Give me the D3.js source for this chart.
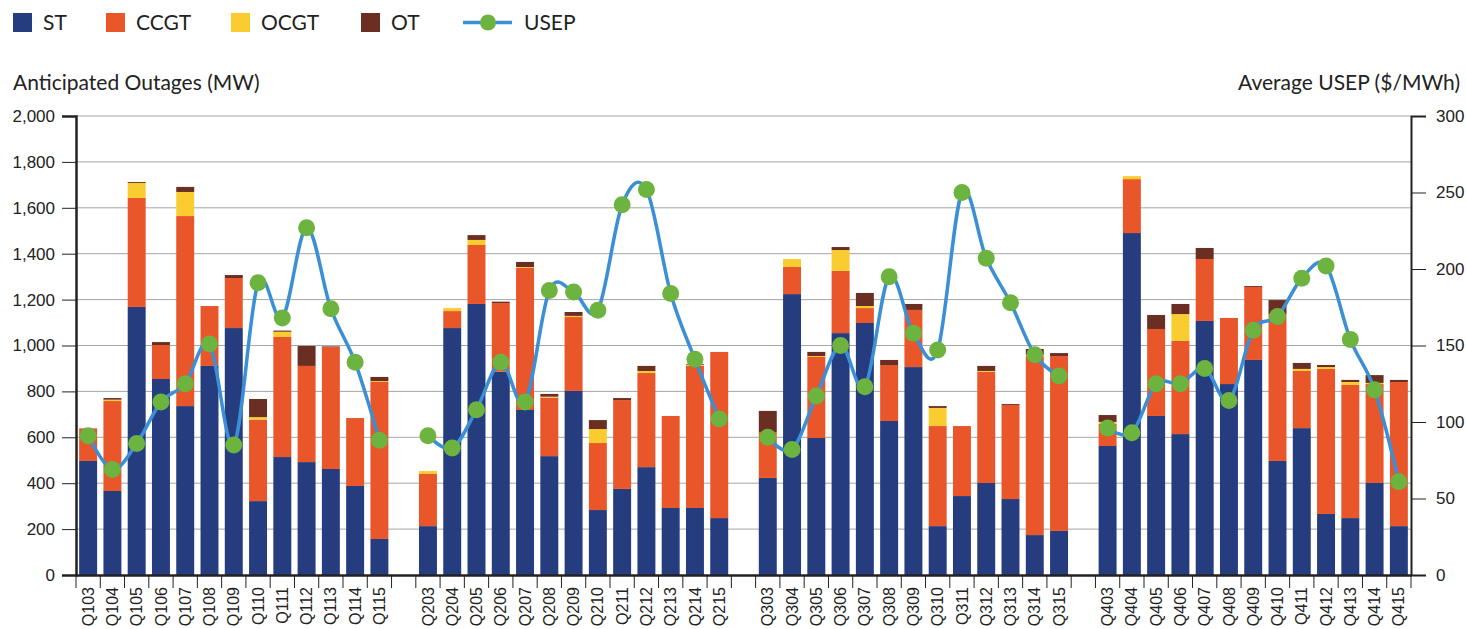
<!DOCTYPE html>
<html lang="en">
<head>
    <meta charset="UTF-8">
    <title>Anticipated Outages vs USEP</title>
    <script src="https://d3js.org/d3.v7.min.js"></script>
    <style>
        body { margin: 0; background: white; }
        svg { display: block; font-family: Lato, "Open Sans", sans-serif; }
        .grid line { stroke: #a6a6a6; stroke-width: 1px; }
        .axis path, .axis line { stroke: #222; }
        .axis text { fill: #222; }
    </style>
</head>
<body>
<div id="chart"></div>
<script>
    // quarters, grouped by year (a blank slot is inserted between groups)
    const groups = [
        ["Q103","Q104","Q105","Q106","Q107","Q108","Q109","Q110","Q111","Q112","Q113","Q114","Q115"],
        ["Q203","Q204","Q205","Q206","Q207","Q208","Q209","Q210","Q211","Q212","Q213","Q214","Q215"],
        ["Q303","Q304","Q305","Q306","Q307","Q308","Q309","Q310","Q311","Q312","Q313","Q314","Q315"],
        ["Q403","Q404","Q405","Q406","Q407","Q408","Q409","Q410","Q411","Q412","Q413","Q414","Q415"]
    ];

    // outages in MW, one value per quarter (in the order above)
    const st = [
        497, 366, 1168, 854, 736, 911, 1076, 322, 514, 492, 462, 388, 157,
        213, 1076, 1181, 886, 719, 518, 802, 283, 375, 470, 292, 292, 248,
        423, 1224, 597, 1054, 1098, 671, 906, 213, 344, 401, 331, 174, 192,
        562, 1490, 693, 614, 1107, 832, 937, 497, 640, 266, 248, 401, 213
    ];
    const ccgt = [
        142, 392, 475, 148, 828, 261, 218, 355, 523, 419, 531, 296, 684,
        227, 74, 257, 299, 619, 255, 322, 292, 387, 410, 401, 620, 724,
        200, 118, 353, 271, 65, 244, 249, 436, 305, 484, 410, 780, 762,
        96, 235, 379, 406, 270, 288, 318, 640, 249, 632, 580, 431, 628
    ];
    const ocgt = [
        0, 6, 65, 0, 105, 0, 0, 11, 23, 0, 0, 0, 4,
        13, 13, 22, 0, 4, 4, 5, 61, 0, 9, 0, 4, 0,
        0, 35, 4, 91, 9, 0, 0, 79, 0, 4, 0, 5, 0,
        9, 13, 0, 117, 0, 0, 0, 0, 9, 8, 13, 5, 0
    ];
    const ot = [
        0, 7, 4, 13, 22, 0, 13, 79, 5, 87, 3, 0, 18,
        0, 0, 21, 6, 22, 12, 17, 39, 9, 22, 0, 3, 0,
        92, 0, 18, 13, 57, 22, 26, 8, 0, 22, 4, 26, 13,
        30, 0, 61, 44, 48, 0, 4, 61, 26, 9, 9, 34, 9
    ];
    // average USEP in $/MWh
    const usep = [
        91, 69, 86, 113, 125, 151, 85, 191, 168, 227, 174, 139, 88,
        91, 83, 108, 139, 113, 186, 185, 173, 242, 252, 184, 141, 102,
        90, 82, 117, 150, 123, 195, 158, 147, 250, 207, 178, 144, 130,
        96, 93, 125, 125, 135, 114, 160, 169, 194, 202, 154, 121, 61
    ];

    const leftTicks = [0, 200, 400, 600, 800, 1000, 1200, 1400, 1600, 1800, 2000];
    const rightTicks = [0, 50, 100, 150, 200, 250, 300];

    const keys = ["ST", "CCGT", "OCGT", "OT"];
    const colors = { ST: "#253d7e", CCGT: "#e8562a", OCGT: "#f9cd30", OT: "#6a2e22" };
    const lineColor = "#3a8fd6", dotColor = "#6db33f";

    // build rows, with blank separators between groups
    const rows = [];
    let k = 0;
    groups.forEach((g, gi) => {
        g.forEach(q => {
            rows.push({ key: q, group: gi, ST: st[k], CCGT: ccgt[k], OCGT: ocgt[k], OT: ot[k], usep: usep[k] });
            k++;
        });
        if (gi < groups.length - 1) rows.push({ key: "_gap" + gi, group: gi, blank: true, ST: 0, CCGT: 0, OCGT: 0, OT: 0 });
    });

    const W = 1466, H = 629;
    const margin = { top: 116, right: 55, bottom: 54, left: 76 };
    const width = W - margin.left - margin.right,
          height = H - margin.top - margin.bottom;

    const svg = d3.select("#chart").append("svg")
        .attr("width", W).attr("height", H);

    const g = svg.append("g").attr("transform", `translate(${margin.left},${margin.top})`);

    const x = d3.scaleBand()
        .domain(rows.map(d => d.key))
        .range([0, width])
        .paddingInner(0.26)
        .paddingOuter(0.13);

    const y = d3.scaleLinear().domain([0, 2000]).range([height, 0]);
    const y2 = d3.scaleLinear().domain([0, 300]).range([height, 0]);

    // gridlines
    g.append("g").attr("class", "grid")
        .selectAll("line").data(leftTicks.filter(t => t > 0)).join("line")
        .attr("x1", 0).attr("x2", width)
        .attr("y1", d => y(d)).attr("y2", d => y(d));

    // stacked bars
    const series = d3.stack().keys(keys)(rows.filter(d => !d.blank));
    g.selectAll(".layer").data(series).join("g")
        .attr("class", "layer")
        .attr("fill", s => colors[s.key])
        .selectAll("rect").data(s => s).join("rect")
        .attr("x", d => x(d.data.key))
        .attr("width", x.bandwidth())
        .attr("y", d => y(d[1]))
        .attr("height", d => Math.max(0, y(d[0]) - y(d[1])));

    // USEP line, one piece per year group
    const line = d3.line()
        .defined(d => !d.blank)
        .x(d => x(d.key) + x.bandwidth() / 2)
        .y(d => y2(d.usep))
        .curve(d3.curveCardinal.tension(0));

    g.append("path")
        .datum(rows)
        .attr("fill", "none")
        .attr("stroke", lineColor)
        .attr("stroke-width", 3.5)
        .attr("d", line);

    g.selectAll(".dot").data(rows.filter(d => !d.blank)).join("circle")
        .attr("class", "dot")
        .attr("cx", d => x(d.key) + x.bandwidth() / 2)
        .attr("cy", d => y2(d.usep))
        .attr("r", 8.5)
        .attr("fill", dotColor);

    // left axis
    const yAxis = g.append("g").attr("class", "axis")
        .call(d3.axisLeft(y).tickValues(leftTicks).tickFormat(d3.format(",")).tickSize(14).tickPadding(7));
    yAxis.select(".domain").attr("stroke-width", 2.5);
    yAxis.selectAll("line").attr("stroke", "#555");
    yAxis.selectAll("text").style("font-size", "17px");

    // right axis
    const y2Axis = g.append("g").attr("class", "axis")
        .attr("transform", `translate(${width},0)`)
        .call(d3.axisRight(y2).tickValues(rightTicks).tickSize(15).tickPadding(10));
    y2Axis.select(".domain").attr("stroke-width", 2);
    y2Axis.selectAll("line").attr("stroke", "#555");
    y2Axis.selectAll("text").style("font-size", "17px");

    // bottom axis: labels under bars, ticks on band edges
    const xAxis = g.append("g").attr("class", "axis")
        .attr("transform", `translate(0,${height})`)
        .call(d3.axisBottom(x).tickSize(0).tickSizeOuter(0).tickFormat(d => d.startsWith("_") ? "" : d));
    xAxis.select(".domain").attr("stroke-width", 2.5);
    xAxis.selectAll("text")
        .style("font-size", "16px")
        .attr("transform", "rotate(-90)")
        .attr("text-anchor", "end")
        .attr("dy", "0.35em")
        .attr("x", -12)
        .attr("y", 0);

    const edges = rows.map(d => x(d.key) - x.step() * x.paddingInner() / 2)
        .concat([width]);
    xAxis.selectAll(".edge").data(edges).join("line")
        .attr("class", "edge")
        .attr("x1", d => d).attr("x2", d => d)
        .attr("y1", 0).attr("y2", 13)
        .attr("stroke", "#555");

    // axis titles
    svg.append("text")
        .attr("x", 13).attr("y", 90)
        .style("font-size", "21px").attr("fill", "#222")
        .text("Anticipated Outages (MW)");
    svg.append("text")
        .attr("x", 1460).attr("y", 90)
        .attr("text-anchor", "end")
        .style("font-size", "21px").attr("fill", "#222")
        .text("Average USEP ($/MWh)");

    // legend
    const legendItems = [
        { label: "ST", x: 13, type: "box", color: colors.ST },
        { label: "CCGT", x: 106, type: "box", color: colors.CCGT },
        { label: "OCGT", x: 231, type: "box", color: colors.OCGT },
        { label: "OT", x: 361, type: "box", color: colors.OT },
        { label: "USEP", x: 463, type: "line" }
    ];
    const legend = svg.append("g").attr("transform", "translate(0,22.5)");
    legendItems.forEach(it => {
        const li = legend.append("g").attr("transform", `translate(${it.x},0)`);
        if (it.type === "box") {
            li.append("rect").attr("x", 0).attr("y", -9.5).attr("width", 19).attr("height", 19).attr("fill", it.color);
            li.append("text").attr("x", 30).attr("y", 0).attr("dy", "0.36em")
                .style("font-size", "21px").attr("fill", "#222").text(it.label);
        } else {
            li.append("line").attr("x1", 0).attr("x2", 49).attr("y1", 0).attr("y2", 0)
                .attr("stroke", lineColor).attr("stroke-width", 3.5);
            li.append("circle").attr("cx", 25).attr("cy", 0).attr("r", 8).attr("fill", dotColor);
            li.append("text").attr("x", 61).attr("y", 0).attr("dy", "0.36em")
                .style("font-size", "21px").attr("fill", "#222").text(it.label);
        }
    });
</script>
</body>
</html>
